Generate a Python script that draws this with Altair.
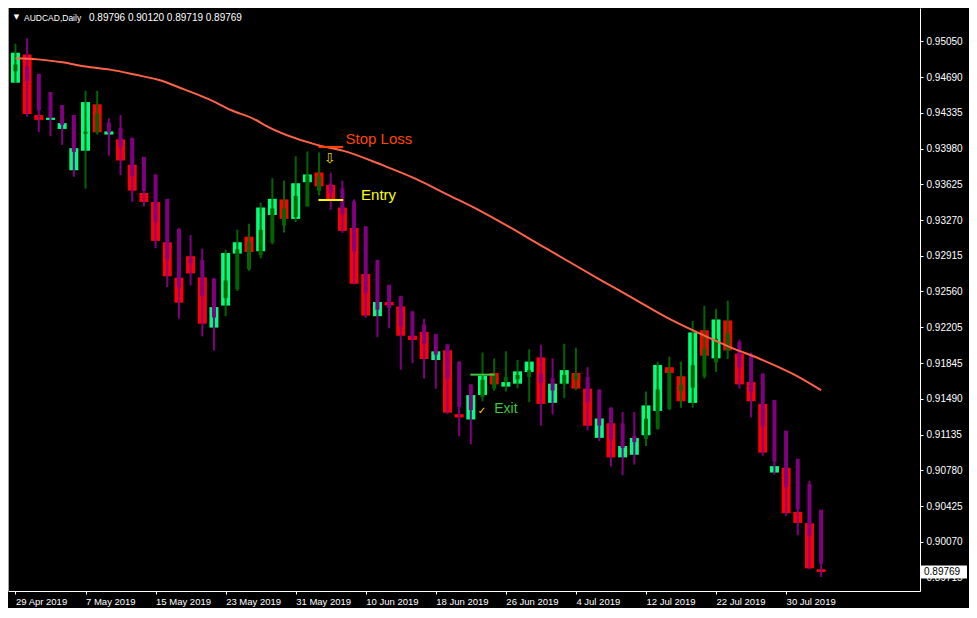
import json
import altair as alt
import pandas as pd

# ---------------- data ----------------
tick_idx = [0, 6, 12, 18, 24, 30, 36, 42, 48, 54, 60, 66]
tick_labels = ["29 Apr 2019", "7 May 2019", "15 May 2019", "23 May 2019", "31 May 2019",
               "10 Jun 2019", "18 Jun 2019", "26 Jun 2019", "4 Jul 2019", "12 Jul 2019",
               "22 Jul 2019", "30 Jul 2019"]

y_ticks = [0.95050, 0.94690, 0.94335, 0.93980, 0.93625, 0.93270, 0.92915, 0.92560,
           0.92205, 0.91845, 0.91490, 0.91135, 0.90780, 0.90425, 0.90070, 0.89715]

open_ = [0.94636, 0.94917, 0.94314, 0.94266, 0.94176, 0.93765, 0.93959, 0.94421, 0.94120, 0.94072,
         0.93820, 0.93539, 0.93449, 0.93049, 0.92697, 0.92910, 0.92700, 0.92200, 0.92419, 0.92936,
         0.93104, 0.92959, 0.93320, 0.93475, 0.93281, 0.93646, 0.93743, 0.93620, 0.93394, 0.93191,
         0.92733, 0.92313, 0.92455, 0.92410, 0.92119, 0.92158, 0.91877, 0.91974, 0.91339, 0.91286,
         0.91529, 0.91748, 0.91613, 0.91642, 0.91758, 0.91903, 0.91451, 0.91642, 0.91748, 0.91593,
         0.91103, 0.91248, 0.90909, 0.90935, 0.91129, 0.91371, 0.91806, 0.91716, 0.91451, 0.92174,
         0.91894, 0.92271, 0.91942, 0.91658, 0.91441, 0.90758, 0.90806, 0.90367, 0.90254, 0.89796]
close_ = [0.94934, 0.94324, 0.94266, 0.94288, 0.94234, 0.93985, 0.94443, 0.94143, 0.94152, 0.93862,
          0.93562, 0.93449, 0.93062, 0.92710, 0.92448, 0.92739, 0.92239, 0.92404, 0.92942, 0.93049,
          0.92952, 0.93394, 0.93481, 0.93281, 0.93636, 0.93723, 0.93604, 0.93469, 0.93162, 0.92636,
          0.92320, 0.92455, 0.92421, 0.92119, 0.92077, 0.91887, 0.91964, 0.91354, 0.91306, 0.91529,
          0.91722, 0.91635, 0.91658, 0.91765, 0.91862, 0.91441, 0.91642, 0.91777, 0.91593, 0.91223,
          0.91296, 0.90909, 0.91022, 0.91103, 0.91426, 0.91829, 0.91748, 0.91468, 0.92152, 0.91920,
          0.92281, 0.91974, 0.91635, 0.91468, 0.90957, 0.90822, 0.90354, 0.90257, 0.89805, 0.89769]
ha_open = [0.94750, 0.94798, 0.94724, 0.94543, 0.94414, 0.94314, 0.94130, 0.94140, 0.94237, 0.94188,
           0.94088, 0.93898, 0.93723, 0.93481, 0.93181, 0.92891, 0.92871, 0.92687, 0.92494, 0.92581,
           0.92779, 0.92920, 0.93046, 0.93215, 0.93299, 0.93404, 0.93559, 0.93631, 0.93585, 0.93455,
           0.93207, 0.92873, 0.92626, 0.92513, 0.92361, 0.92230, 0.92134, 0.92033, 0.91862, 0.91635,
           0.91506, 0.91593, 0.91661, 0.91685, 0.91708, 0.91742, 0.91697, 0.91635, 0.91682, 0.91711,
           0.91584, 0.91405, 0.91245, 0.91124, 0.91092, 0.91193, 0.91388, 0.91573, 0.91603, 0.91714,
           0.91852, 0.91971, 0.92058, 0.91932, 0.91743, 0.91480, 0.91174, 0.90894, 0.90645, 0.90388]
ha_close = [0.94817, 0.94653, 0.94362, 0.94285, 0.94217, 0.93946, 0.94149, 0.94333, 0.94140, 0.93995,
            0.93704, 0.93559, 0.93249, 0.92881, 0.92600, 0.92842, 0.92513, 0.92300, 0.92668, 0.92978,
            0.93055, 0.93172, 0.93385, 0.93385, 0.93510, 0.93714, 0.93704, 0.93539, 0.93326, 0.92959,
            0.92542, 0.92378, 0.92397, 0.92213, 0.92097, 0.92039, 0.91932, 0.91690, 0.91409, 0.91380,
            0.91681, 0.91729, 0.91710, 0.91729, 0.91777, 0.91651, 0.91574, 0.91729, 0.91739, 0.91458,
            0.91225, 0.91090, 0.91003, 0.91061, 0.91293, 0.91584, 0.91758, 0.91632, 0.91826, 0.91990,
            0.92087, 0.92145, 0.91806, 0.91555, 0.91216, 0.90867, 0.90616, 0.90393, 0.90131, 0.89851]
ha_high = [0.95024, 0.95079, 0.94724, 0.94543, 0.94414, 0.94314, 0.94556, 0.94556, 0.94282, 0.94314,
           0.94088, 0.93898, 0.93723, 0.93481, 0.93191, 0.93120, 0.92985, 0.92694, 0.92975, 0.93174,
           0.93233, 0.93443, 0.93685, 0.93662, 0.93904, 0.93953, 0.93943, 0.93740, 0.93662, 0.93475,
           0.93207, 0.92873, 0.92626, 0.92513, 0.92361, 0.92288, 0.92134, 0.92033, 0.91862, 0.91635,
           0.91952, 0.91894, 0.91964, 0.91877, 0.91984, 0.92029, 0.91894, 0.92039, 0.92000, 0.91806,
           0.91584, 0.91405, 0.91361, 0.91361, 0.91564, 0.91862, 0.91910, 0.91862, 0.92264, 0.92416,
           0.92387, 0.92468, 0.92077, 0.91952, 0.91743, 0.91480, 0.91174, 0.90894, 0.90674, 0.90388]
ha_low = [0.94634, 0.94298, 0.94147, 0.94104, 0.94017, 0.93701, 0.93581, 0.94120, 0.93910, 0.93717,
          0.93452, 0.93404, 0.92990, 0.92603, 0.92288, 0.92620, 0.92113, 0.91971, 0.92313, 0.92564,
          0.92765, 0.92888, 0.93029, 0.93145, 0.93249, 0.93417, 0.93513, 0.93372, 0.93143, 0.92629,
          0.92297, 0.92104, 0.92194, 0.91780, 0.91845, 0.91693, 0.91593, 0.91339, 0.91119, 0.91039,
          0.91468, 0.91571, 0.91564, 0.91596, 0.91458, 0.91225, 0.91335, 0.91499, 0.91577, 0.91177,
          0.91071, 0.90819, 0.90732, 0.90838, 0.91022, 0.91184, 0.91377, 0.91403, 0.91403, 0.91693,
          0.91758, 0.91887, 0.91593, 0.91306, 0.90925, 0.90738, 0.90328, 0.90134, 0.89795, 0.89719]

ma_idx = [0, 1.9, 4, 6, 8.1, 10.2, 12.3, 14.4, 16.5, 18.5, 20.6, 21.3, 25.9, 28.1, 31.5, 34.2,
          37, 39.8, 45.6, 50.2, 52.9, 55.6, 58.4, 61.2, 64, 66.7, 69]
ma_val = [0.94878, 0.94868, 0.94839, 0.94798, 0.94766, 0.94717, 0.94662, 0.94572, 0.94475,
          0.94362, 0.94265, 0.94217, 0.94015, 0.93958, 0.93813, 0.93684, 0.93523, 0.93362,
          0.92977, 0.92668, 0.92491, 0.92312, 0.92152, 0.92006, 0.91877, 0.91732, 0.91577]

# trade annotations
ann_names = ["Stop Loss", "Entry", "Exit"]
ann_price = [0.93997, 0.93469, 0.91732]
ann_x1 = [25.95, 25.95, 38.96]
ann_x2 = [28.07, 28.07, 41.04]
ann_color = ["#FF4500", "#FFFF00", "#3CC83C"]
ann_text_x = [28.27, 29.6, 41.0]
ann_text_y = [0.94024, 0.93469, 0.91351]
ann_text_size = [15, 15, 14]

sym_text = ["\u21e9", "\u2713"]
sym_x = [26.9, 39.96]
sym_y = [0.93878, 0.91366]
sym_color = ["#E6D200", "#FFD700"]
sym_size = [14, 10]

header_symbol = "AUDCAD,Daily"
header_ohlc = "0.89796 0.90120 0.89719 0.89769"
last_price = 0.89769

# ---------------- chart ----------------
W, H = 912, 583
UP_BODY, DOWN_BODY = "#00FF7F", "#FF0000"
HA_UP, HA_DOWN = "#006400", "#800080"

df = pd.DataFrame({
    "i": list(range(len(open_))),
    "open": open_, "close": close_,
    "ha_o": ha_open, "ha_c": ha_close, "ha_h": ha_high, "ha_l": ha_low,
})
df["body_col"] = [UP_BODY if c >= o else DOWN_BODY for o, c in zip(open_, close_)]
df["ha_col"] = [HA_UP if c >= o else HA_DOWN for o, c in zip(ha_open, ha_close)]

x_scale = alt.Scale(domain=[-0.21, 77.04], nice=False, zero=False)
y_scale = alt.Scale(domain=[0.89580, 0.95379], nice=False, zero=False)

label_expr = f"{json.dumps(tick_labels)}[indexof({json.dumps(tick_idx)}, datum.value)]"
x_axis = alt.Axis(values=tick_idx, labelExpr=label_expr, title=None, grid=False,
                  labelAlign="left", labelBaseline="top", labelPadding=2, tickSize=3,
                  labelColor="white", tickColor="white", domainColor="white",
                  labelFont="Liberation Sans", labelFontSize=9.5, labelFlush=False,
                  labelOverlap=False, labelBound=False)
y_axis = alt.Axis(values=y_ticks, format=".5f", orient="right", title=None, grid=False,
                  labelColor="white", tickColor="white", domainColor="white", tickSize=3,
                  labelPadding=3, labelFont="Liberation Sans", labelFontSize=10,
                  labelOverlap=False, labelFlush=False, labelBound=False)

X = alt.X("i:Q", scale=x_scale, axis=x_axis)

bodies = alt.Chart(df).mark_bar(size=9, clip=True, orient="vertical").encode(
    x=X,
    y=alt.Y("open:Q", scale=y_scale, axis=y_axis),
    y2="close:Q",
    color=alt.Color("body_col:N", scale=None),
)
wicks = alt.Chart(df).mark_rule(strokeWidth=2, clip=True).encode(
    x=X,
    y=alt.Y("ha_h:Q", scale=y_scale, axis=y_axis),
    y2="ha_l:Q",
    color=alt.Color("ha_col:N", scale=None),
)
ha_bodies = alt.Chart(df).mark_bar(size=4, clip=True, orient="vertical").encode(
    x=X,
    y=alt.Y("ha_o:Q", scale=y_scale, axis=y_axis),
    y2="ha_c:Q",
    color=alt.Color("ha_col:N", scale=None),
)

ma = alt.Chart(pd.DataFrame({"i": ma_idx, "v": ma_val})).mark_line(
    color="#FF6347", strokeWidth=2, interpolate="monotone", clip=True
).encode(x=X, y=alt.Y("v:Q", scale=y_scale, axis=y_axis))

ann_df = pd.DataFrame({"name": ann_names, "p": ann_price, "x1": ann_x1, "x2": ann_x2,
                       "col": ann_color, "tx": ann_text_x, "ty": ann_text_y, "fs": ann_text_size})
ann_lines = alt.Chart(ann_df).mark_rule(strokeWidth=2).encode(
    x=alt.X("x1:Q", scale=x_scale, axis=x_axis), x2="x2:Q",
    y=alt.Y("p:Q", scale=y_scale, axis=y_axis),
    color=alt.Color("col:N", scale=None),
)
ann_texts = alt.Chart(ann_df).mark_text(align="left", baseline="alphabetic",
                                        font="Liberation Sans").encode(
    x=alt.X("tx:Q", scale=x_scale, axis=x_axis),
    y=alt.Y("ty:Q", scale=y_scale, axis=y_axis),
    text="name:N",
    color=alt.Color("col:N", scale=None),
    size=alt.Size("fs:Q", scale=None),
)
sym_df = pd.DataFrame({"t": sym_text, "x": sym_x, "y": sym_y, "c": sym_color, "s": sym_size})
symbols = alt.Chart(sym_df).mark_text(align="center", baseline="middle",
                                      font="DejaVu Sans").encode(
    x=alt.X("x:Q", scale=x_scale, axis=x_axis),
    y=alt.Y("y:Q", scale=y_scale, axis=y_axis),
    text="t:N",
    color=alt.Color("c:N", scale=None),
    size=alt.Size("s:Q", scale=None),
)

head_df = pd.DataFrame({"a": [header_symbol], "b": [header_ohlc], "tri": ["\u25bc"]})
head_tri = alt.Chart(head_df).mark_text(color="white", font="DejaVu Sans", fontSize=7,
                                        align="center", baseline="middle").encode(
    text="tri:N", x=alt.value(8.5), y=alt.value(9))
head_a = alt.Chart(head_df).mark_text(color="white", font="Liberation Sans", fontSize=8.5,
                                      align="left", baseline="alphabetic").encode(
    text="a:N", x=alt.value(16), y=alt.value(12.5))
head_b = alt.Chart(head_df).mark_text(color="white", font="Liberation Sans", fontSize=10,
                                      align="left", baseline="alphabetic").encode(
    text="b:N", x=alt.value(81), y=alt.value(12.5))

last_df = pd.DataFrame({"p": [last_price], "t": [f"{last_price:.5f}"]})
last_box = alt.Chart(last_df).mark_rect(color="white", yOffset=-6.5, y2Offset=6.5,
                                        clip=False).encode(
    x=alt.value(W + 1), x2=alt.value(W + 47),
    y=alt.Y("p:Q", scale=y_scale, axis=y_axis), y2="p:Q")
last_txt = alt.Chart(last_df).mark_text(color="black", font="Liberation Sans", fontSize=10,
                                        align="left", baseline="middle", clip=False).encode(
    x=alt.value(W + 4), y=alt.Y("p:Q", scale=y_scale, axis=y_axis), text="t:N")

left_border = alt.Chart(head_df).mark_rule(color="#A0A0A0", strokeWidth=1).encode(
    x=alt.value(0.5), y=alt.value(0), y2=alt.value(H))

chart = alt.layer(
    bodies, wicks, ha_bodies, ma, ann_lines, ann_texts, symbols,
    head_tri, head_a, head_b, last_box, last_txt, left_border
).properties(
    width=W, height=H,
    autosize=alt.AutoSizeParams(type="none"),
    padding={"left": 0, "top": 0, "right": 49, "bottom": 17},
).configure(background="black").configure_view(stroke=None)

chart.save("out.html", embed_options={"renderer": "svg", "actions": False})
